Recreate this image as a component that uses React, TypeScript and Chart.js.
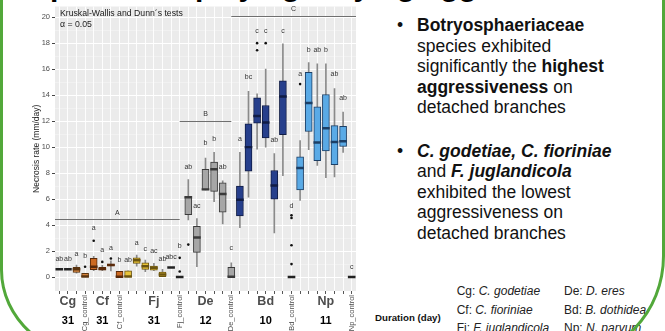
import React, { useEffect, useRef } from 'react';
import { Chart, registerables } from 'chart.js';

Chart.register(...registerables);

const FONT = '"Liberation Sans", Arial, Helvetica, sans-serif';

// ---- data ----
const categories = [
  'Cg1', 'Cg2', 'Cg3', 'Cg_control',
  'Cf1', 'Cf2', 'Cf3', 'Cf_control',
  'Fj1', 'Fj2', 'Fj3', 'Fj4', 'Fj5', 'Fj6', 'Fj_control',
  'De1', 'De2', 'De3', 'De4', 'De5', 'De_control',
  'Bd1', 'Bd2', 'Bd3', 'Bd4', 'Bd5', 'Bd6', 'Bd_control',
  'Np1', 'Np2', 'Np3', 'Np4', 'Np5', 'Np6', 'Np_control',
];
const whiskerLow = [
  null, null, 0.3, 0,
  0.5, 0.5, 0.48, 0,
  0, 0.84, 0.41, 0.5, 0, null, null,
  4.4, 0.8, 6.7, 5.8, 4.1, 0,
  3.8, 6.15, 9.85, 10.0, 3.4, 7.8, null,
  5.9, 9.8, 8.6, 7.65, 7.7, 9.6, null,
];
const q1 = [
  null, null, 0.35, 0,
  0.58, 0.55, 0.86, 0,
  0, 1.05, 0.59, 0.54, 0, null, null,
  4.8, 1.9, 6.7, 6.6, 5.0, 0,
  4.7, 8.15, 11.85, 10.7, 6.0, 10.95, null,
  6.7, 11.2, 8.95, 9.7, 8.65, 10.05, null,
];
const median = [
  0.6, 0.6, 0.6, 0.05,
  0.8, 0.62, 0.93, 0.03,
  0.05, 1.3, 0.84, 0.72, 0.2, 0.74, 0,
  6.15, 3.05, 6.75, 8.3, 6.4, 0.03,
  5.95, 10.0, 12.4, 11.9, 7.05, 13.9, 0,
  8.4, 13.4, 10.35, 11.45, 10.4, 10.45, 0,
];
const q3 = [
  null, null, 0.75, 0.28,
  1.45, 0.75, 1.0, 0.45,
  0.48, 1.48, 1.1, 0.84, 0.38, null, null,
  6.2, 3.9, 8.3, 8.85, 7.25, 0.75,
  7.0, 11.8, 13.8, 13.2, 8.2, 15.1, null,
  9.25, 15.75, 13.1, 14.05, 11.65, 11.6, null,
];
const whiskerHigh = [
  null, null, 0.92, 0.28,
  1.6, 0.9, 1.25, 0.45,
  0.48, 1.7, 1.3, 1.05, 0.59, null, null,
  7.5, 4.5, 9.15, 9.6, 7.4, 1.1,
  9.6, 14.3, 14.1, 16.0, 9.5, 17.95, null,
  10.5, 16.5, 16.4, 16.4, 14.5, 12.7, null,
];
const outlierCategory = ['Cg_control', 'Cf1', 'Cf2', 'Cf3', 'Fj_control', 'Fj_control', 'De1', 'Bd3', 'Bd3', 'Bd4', 'Bd_control', 'Bd_control', 'Bd_control', 'Bd_control', 'Np1'];
const outlierValue = [0.8, 2.8, 1.17, 1.43, 0.43, 1.48, 2.5, 17.45, 18.0, 18.0, 1.0, 2.45, 4.55, 4.75, 14.85];
const letters = [
  'ab', 'ab', 'a', 'b',
  'a', 'a', 'a', 'b',
  'ab', 'a', 'c', 'ac', 'ab', 'abc', 'b',
  'ab', 'ac', 'b', 'b', 'ab', 'c',
  'a', 'bc', 'c', 'c', 'ab', 'c', 'd',
  'a', 'b', 'ab', 'b', 'ab', 'ab', 'c',
];
const letterY = [
  1.35, 1.35, 1.75, 1.6,
  3.75, 2.07, 2.25, 1.3,
  1.3, 2.58, 2.15, 2.0, 1.38, 1.56, 2.4,
  8.5, 5.5, 10.3, 10.6, 8.5, 2.25,
  10.65, 15.4, 18.9, 18.9, 10.55, 18.9, 5.45,
  15.65, 17.5, 17.5, 17.5, 15.6, 13.8, 0.8,
];
const bracketLetters = ['A', 'B', 'C'];
const bracketLineY = [4.45, 12.0, 20.1];
const bracketLabelY = [4.95, 12.55, 20.6];
const bracketFrom = [null, 'Fj_control', 'De_control'];
const bracketTo = ['Fj_control', 'De_control', null];
const groupLabels = ['Cg', 'Cf', 'Fj', 'De', 'Bd', 'Np'];
const groupLabelAt = ['Cg2', 'Cf2', 'Fj4', 'De3', 'Bd4', 'Np4'];
const durations = ['31', '31', '31', '12', '10', '11'];
const controlCategories = ['Cg_control', 'Cf_control', 'Fj_control', 'De_control', 'Bd_control', 'Np_control'];

// ---- styles ----
const groupFill = ['#D4823A', '#CC6A22', '#E9C43A', '#A6A6A6', '#263F8C', '#5AAAE6'];
const groupLine = ['#5a3410', '#5a2a0a', '#6b5410', '#3a3a3a', '#101c45', '#1c3f66'];
const groupOfCategory = (c: string) => groupLabels.indexOf(c.slice(0, 2));

export default function App() {
  const ref = useRef<HTMLCanvasElement>(null);

  useEffect(() => {
    const fills = categories.map((c) => groupFill[groupOfCategory(c)]);
    const lines = categories.map((c) => groupLine[groupOfCategory(c)]);
    const medianColors = categories.map((c, i) => (q1[i] == null ? '#222222' : groupLine[groupOfCategory(c)]));
    const boxData = categories.map((_, i) => (q1[i] == null ? null : [q1[i], q3[i]]));
    const whiskerData = categories.map((_, i) => (whiskerLow[i] == null ? null : [whiskerLow[i], whiskerHigh[i]]));
    const medianData = categories.map((_, i) => [median[i] - 0.07, median[i] + 0.07]);
    const outlierData = outlierCategory.map((c, i) => ({ x: c, y: outlierValue[i] }));

    const annotate = {
      id: 'annotate',
      beforeDraw(chart: any) {
        const { ctx, chartArea: a } = chart;
        ctx.save();
        ctx.fillStyle = '#EBEBEB';
        ctx.fillRect(a.left, a.top, a.right - a.left, a.bottom - a.top);
        ctx.restore();
      },
      afterDatasetsDraw(chart: any) {
        const { ctx, chartArea: a } = chart;
        const x = chart.scales.x;
        const y = chart.scales.y;
        ctx.save();
        ctx.textAlign = 'center';
        ctx.textBaseline = 'middle';
        // significance letters
        ctx.font = `7px ${FONT}`;
        ctx.fillStyle = '#333';
        categories.forEach((c, i) => {
          ctx.fillText(letters[i], x.getPixelForValue(i), y.getPixelForValue(letterY[i]));
        });
        // group brackets
        ctx.strokeStyle = '#707070';
        ctx.lineWidth = 1;
        bracketLetters.forEach((L, i) => {
          const x0 = bracketFrom[i] == null ? a.left : x.getPixelForValue(categories.indexOf(bracketFrom[i] as string));
          const x1 = bracketTo[i] == null ? a.right : x.getPixelForValue(categories.indexOf(bracketTo[i] as string));
          const yy = Math.round(y.getPixelForValue(bracketLineY[i])) + 0.5;
          ctx.beginPath();
          ctx.moveTo(x0, yy);
          ctx.lineTo(x1, yy);
          ctx.stroke();
          ctx.fillText(L, (x0 + x1) / 2, y.getPixelForValue(bracketLabelY[i]));
        });
        // test note
        ctx.textAlign = 'left';
        ctx.fillStyle = '#1a1a1a';
        ctx.font = `8.7px ${FONT}`;
        ctx.fillText('Kruskal-Wallis and Dunn\u00B4s tests', a.left + 5, a.top + 7);
        ctx.fillText('\u03B1 = 0.05', a.left + 5, a.top + 18);
        // group labels + durations
        ctx.textAlign = 'center';
        groupLabels.forEach((g, i) => {
          const px = x.getPixelForValue(categories.indexOf(groupLabelAt[i]));
          ctx.font = `bold 12.5px ${FONT}`;
          ctx.fillStyle = '#4d4d4d';
          ctx.fillText(g, px, a.bottom + 11);
          ctx.font = `bold 11px ${FONT}`;
          ctx.fillStyle = '#000';
          ctx.fillText(durations[i], px, a.bottom + 30);
        });
        // control labels (rotated)
        ctx.font = `7.5px ${FONT}`;
        ctx.fillStyle = '#4d4d4d';
        ctx.textAlign = 'right';
        controlCategories.forEach((c) => {
          const px = x.getPixelForValue(categories.indexOf(c));
          ctx.save();
          ctx.translate(px, a.bottom + 4);
          ctx.rotate(-Math.PI / 2);
          ctx.fillText(c, 0, 0);
          ctx.restore();
        });
        ctx.restore();
      },
    };

    const even = (c: any) => c.tick && Math.abs(c.tick.value % 2) < 1e-9;

    const chart = new Chart(ref.current as HTMLCanvasElement, {
      type: 'bar',
      data: {
        labels: categories,
        datasets: [
          {
            type: 'bar',
            data: whiskerData as any,
            backgroundColor: '#8a8a8a',
            barThickness: 1,
            grouped: false,
            order: 4,
          } as any,
          {
            type: 'bar',
            data: boxData as any,
            backgroundColor: fills,
            borderColor: lines,
            borderWidth: 1,
            borderSkipped: false,
            barThickness: 7,
            grouped: false,
            order: 3,
          } as any,
          {
            type: 'bar',
            data: medianData as any,
            backgroundColor: medianColors,
            barThickness: 7,
            grouped: false,
            order: 2,
          } as any,
          {
            type: 'line',
            data: outlierData as any,
            showLine: false,
            pointRadius: 1.3,
            pointBorderWidth: 0,
            pointBackgroundColor: '#111',
            order: 1,
          } as any,
        ],
      },
      options: {
        animation: false,
        responsive: true,
        maintainAspectRatio: false,
        events: [],
        layout: { padding: { top: 5, right: 14, left: 0, bottom: 0 } },
        plugins: { legend: { display: false }, tooltip: { enabled: false } },
        scales: {
          x: {
            offset: true,
            afterFit: (s: any) => { s.height = 40; },
            border: { display: false },
            grid: { offset: false, color: '#ffffff', lineWidth: 0.9, tickColor: '#444', tickLength: 3 },
            ticks: { autoSkip: false, maxRotation: 0, callback: () => '' },
          },
          y: {
            min: -1.07,
            max: 20.82,
            afterFit: (s: any) => { s.width = 55; },
            border: { display: false },
            grid: {
              color: (c: any) => (c.tick && c.tick.value < 0 ? 'rgba(0,0,0,0)' : even(c) ? '#ffffff' : 'rgba(255,255,255,0.55)'),
              lineWidth: (c: any) => (even(c) ? 1 : 0.6),
              tickColor: (c: any) => (even(c) && c.tick.value >= 0 ? '#444' : 'rgba(0,0,0,0)'),
              tickLength: 3,
            },
            ticks: {
              stepSize: 1,
              includeBounds: false,
              autoSkip: false,
              padding: 2,
              color: '#4d4d4d',
              font: { size: 7.5, family: FONT },
              callback: (v: any) => (Number(v) >= 0 && Number(v) % 2 === 0 ? String(v) : ''),
            },
            title: {
              display: true,
              text: 'Necrosis rate (mm/day)',
              color: '#222',
              font: { size: 8.5, family: FONT },
              padding: { top: 32, bottom: 0 },
            },
          },
        },
      } as any,
      plugins: [annotate],
    });
    return () => chart.destroy();
  }, []);

  const para: React.CSSProperties = {
    position: 'absolute',
    fontSize: 17.5,
    lineHeight: '20.5px',
    color: '#111',
    whiteSpace: 'nowrap',
  };
  const legend: React.CSSProperties = {
    position: 'absolute',
    fontSize: 12,
    lineHeight: '18.5px',
    color: '#222',
    whiteSpace: 'nowrap',
    top: 282.4,
  };

  return (
    <div style={{ position: 'absolute', left: 0, top: 0, width: 665, height: 331, overflow: 'hidden', background: '#fff', fontFamily: FONT }}>
      <div style={{ position: 'absolute', left: 30, top: -29.5, fontSize: 30, lineHeight: '30px', fontWeight: 'bold', color: '#000', whiteSpace: 'nowrap' }}>
        Species displaying varying aggressiveness
      </div>
      <div style={{ position: 'absolute', left: 0, top: 0, width: 370, height: 331 }}>
        <canvas ref={ref} />
      </div>
      <div style={{ ...para, left: 397, top: 15.4 }}>•</div>
      <div style={{ ...para, left: 417, top: 15.4 }}>
        <b>Botryosphaeriaceae</b><br />
        species exhibited<br />
        significantly the <b>highest</b><br />
        <b>aggressiveness</b> on<br />
        detached branches
      </div>
      <div style={{ ...para, left: 397, top: 140.9 }}>•</div>
      <div style={{ ...para, left: 417, top: 140.9 }}>
        <b><i>C. godetiae, C. fioriniae</i></b><br />
        and <b><i>F. juglandicola</i></b><br />
        exhibited the lowest<br />
        aggressiveness on<br />
        detached branches
      </div>
      <div style={{ position: 'absolute', left: 375, top: 312.2, fontSize: 9.7, lineHeight: '12px', fontWeight: 'bold', color: '#111', whiteSpace: 'nowrap' }}>
        Duration (day)
      </div>
      <div style={{ ...legend, left: 456.7 }}>
        Cg: <i>C. godetiae</i><br />
        Cf: <i>C. fioriniae</i><br />
        Fj: <i>F. juglandicola</i>
      </div>
      <div style={{ ...legend, left: 564 }}>
        De: <i>D. eres</i><br />
        Bd: <i>B. dothidea</i><br />
        Np: <i>N. parvum</i>
      </div>
      <div style={{ position: 'absolute', left: 0, top: -20, width: 665, height: 380, boxSizing: 'border-box', border: '3px solid #52a83a', borderBottomLeftRadius: '100px 90px', borderBottomRightRadius: '100px 104px', pointerEvents: 'none' }} />
    </div>
  );
}
